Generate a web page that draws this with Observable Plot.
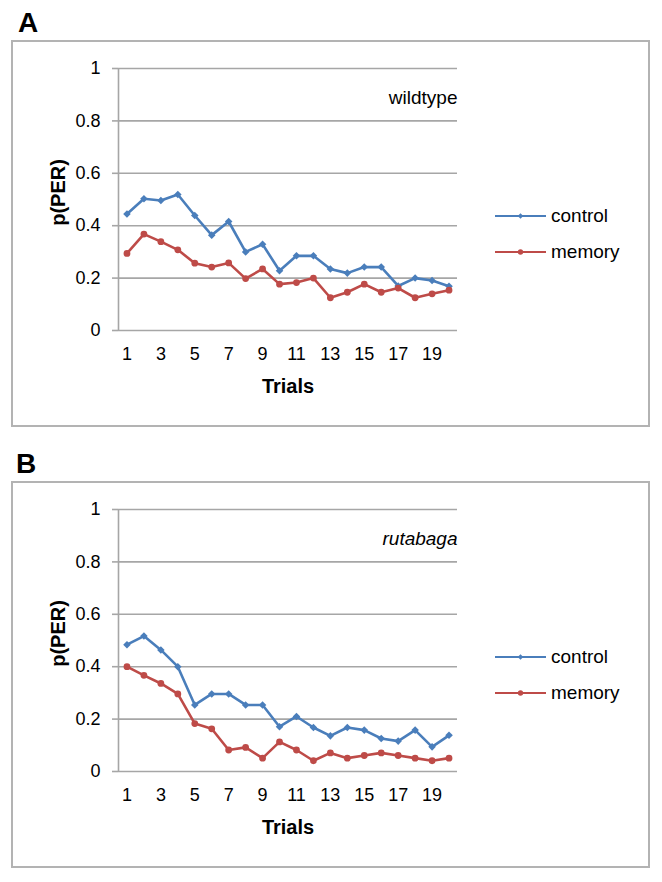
<!DOCTYPE html>
<html>
<head>
<meta charset="utf-8">
<script src="https://cdn.jsdelivr.net/npm/d3@7"></script>
<script src="https://cdn.jsdelivr.net/npm/@observablehq/plot@0.6"></script>
<style>
  html, body { margin: 0; padding: 0; background: #fff; }
  body { font-family: "Liberation Sans", Arial, sans-serif; }
  #root { position: relative; width: 662px; height: 882px; overflow: hidden; }
  .box { position: absolute; border: 2px solid #b3b3b3; box-sizing: border-box; }
  .letter { position: absolute; font-size: 28px; font-weight: bold; line-height: 28px; color: #000; }
  .plotwrap { position: absolute; left: 0; }
  .legend { position: absolute; left: 495px; font-size: 19px; color: #000; }
  .legend .item { position: absolute; left: 0; height: 24px; display: flex; align-items: center; white-space: nowrap; }
  .legend svg { margin-right: 5px; }
</style>
</head>
<body>
<div id="root"></div>
<script>
// ---- data ----
const trials = [1,2,3,4,5,6,7,8,9,10,11,12,13,14,15,16,17,18,19,20];
const wildtypeControl = [0.445,0.503,0.496,0.519,0.439,0.364,0.416,0.300,0.329,0.228,0.285,0.285,0.235,0.219,0.242,0.242,0.170,0.200,0.191,0.169];
const wildtypeMemory  = [0.294,0.368,0.339,0.308,0.257,0.242,0.258,0.198,0.235,0.177,0.183,0.200,0.125,0.146,0.177,0.146,0.162,0.125,0.140,0.154];
const rutabagaControl = [0.484,0.517,0.464,0.400,0.254,0.296,0.296,0.254,0.254,0.171,0.210,0.168,0.136,0.168,0.158,0.126,0.116,0.158,0.094,0.138];
const rutabagaMemory  = [0.400,0.367,0.336,0.296,0.183,0.163,0.082,0.092,0.051,0.113,0.082,0.041,0.071,0.051,0.061,0.071,0.061,0.051,0.041,0.051];
const yTicks = [0, 0.2, 0.4, 0.6, 0.8, 1];
const xTicks = [1, 3, 5, 7, 9, 11, 13, 15, 17, 19];
const seriesNames = ["control", "memory"];
const seriesColors = ["#4a7ebb", "#be4b48"];
const seriesSymbols = ["diamond2", "circle"];
const panels = [
  {letter: "A", label: "wildtype", italic: false, control: wildtypeControl, memory: wildtypeMemory},
  {letter: "B", label: "rutabaga", italic: true, control: rutabagaControl, memory: rutabagaMemory}
];

const gridColor = "#a6a6a6";
const root = document.getElementById("root");
const panelTops = [40, 481];
const panelH = 387;

panels.forEach((p, i) => {
  const top = panelTops[i];

  const box = document.createElement("div");
  box.className = "box";
  Object.assign(box.style, {left: "11px", top: top + "px", width: "639px", height: panelH + "px"});
  root.appendChild(box);

  const letter = document.createElement("div");
  letter.className = "letter";
  letter.textContent = p.letter;
  Object.assign(letter.style, {left: (p.letter === "A" ? 18 : 16) + "px", top: (top - 31) + "px"});
  root.appendChild(letter);

  const data = [];
  seriesNames.forEach(s => {
    const vals = s === "control" ? p.control : p.memory;
    trials.forEach((t, k) => data.push({trial: t, value: vals[k], series: s}));
  });

  const chart = Plot.plot({
    width: 662,
    height: panelH,
    marginLeft: 118,
    marginRight: 205,
    marginTop: 28,
    marginBottom: 97,
    style: {background: "transparent", fontFamily: "'Liberation Sans', Arial, sans-serif", fontSize: "18px", color: "#000", overflow: "visible"},
    x: {type: "linear", domain: [0.5, 20.5]},
    y: {type: "linear", domain: [0, 1]},
    color: {domain: seriesNames, range: seriesColors},
    symbol: {domain: seriesNames, range: seriesSymbols},
    marks: [
      Plot.ruleY(yTicks, {stroke: gridColor, strokeWidth: 1.6}),
      Plot.ruleX([0.5], {y1: 0, y2: 1, stroke: gridColor, strokeWidth: 1.6}),
      Plot.axisY({ticks: yTicks, tickSize: 6, tickPadding: 12, tickFormat: d => String(d), stroke: gridColor, strokeWidth: 1.6, label: null, fontSize: 18}),
      Plot.axisX({ticks: xTicks, tickSize: 0, tickPadding: 17, tickFormat: d => String(d), label: null, fontSize: 18}),
      Plot.line(data, {x: "trial", y: "value", z: "series", stroke: "series", strokeWidth: 2.6}),
      Plot.dot(data, {x: "trial", y: "value", symbol: "series", fill: "series", r: 3.4, stroke: null}),
      Plot.text([p.label], {frameAnchor: "top-right", text: d => d, dy: 22, textAnchor: "end", fontSize: 19, fontStyle: p.italic ? "italic" : "normal", fill: "#000"}),
      Plot.text(["Trials"], {frameAnchor: "bottom", text: d => d, dy: 56, lineAnchor: "middle", textAnchor: "middle", fontSize: 20, fontWeight: "bold", fill: "#000"}),
      Plot.text(["p(PER)"], {frameAnchor: "left", text: d => d, dx: -60, dy: -7, rotate: -90, textAnchor: "middle", lineAnchor: "middle", fontSize: 20, fontWeight: "bold", fill: "#000"})
    ]
  });
  const wrap = document.createElement("div");
  wrap.className = "plotwrap";
  wrap.style.top = top + "px";
  wrap.appendChild(chart);
  root.appendChild(wrap);

  // legend
  const legend = document.createElement("div");
  legend.className = "legend";
  legend.style.top = top + "px";
  seriesNames.forEach((s, k) => {
    const item = document.createElement("div");
    item.className = "item";
    item.style.top = (175.7 - 12 + k * 36.3) + "px";
    const ns = "http://www.w3.org/2000/svg";
    const svg = document.createElementNS(ns, "svg");
    svg.setAttribute("width", 51); svg.setAttribute("height", 10);
    const ln = document.createElementNS(ns, "line");
    ln.setAttribute("x1", 0); ln.setAttribute("x2", 51); ln.setAttribute("y1", 5); ln.setAttribute("y2", 5);
    ln.setAttribute("stroke", seriesColors[k]); ln.setAttribute("stroke-width", 2);
    svg.appendChild(ln);
    const mk = document.createElementNS(ns, "path");
    mk.setAttribute("d", d3.symbol(k === 0 ? d3.symbolDiamond2 : d3.symbolCircle, k === 0 ? 20 : 22)());
    mk.setAttribute("transform", "translate(25.5,5)");
    mk.setAttribute("fill", seriesColors[k]);
    svg.appendChild(mk);
    item.appendChild(svg);
    const span = document.createElement("span");
    span.textContent = s;
    item.appendChild(span);
    legend.appendChild(item);
  });
  root.appendChild(legend);
});
</script>
</body>
</html>
